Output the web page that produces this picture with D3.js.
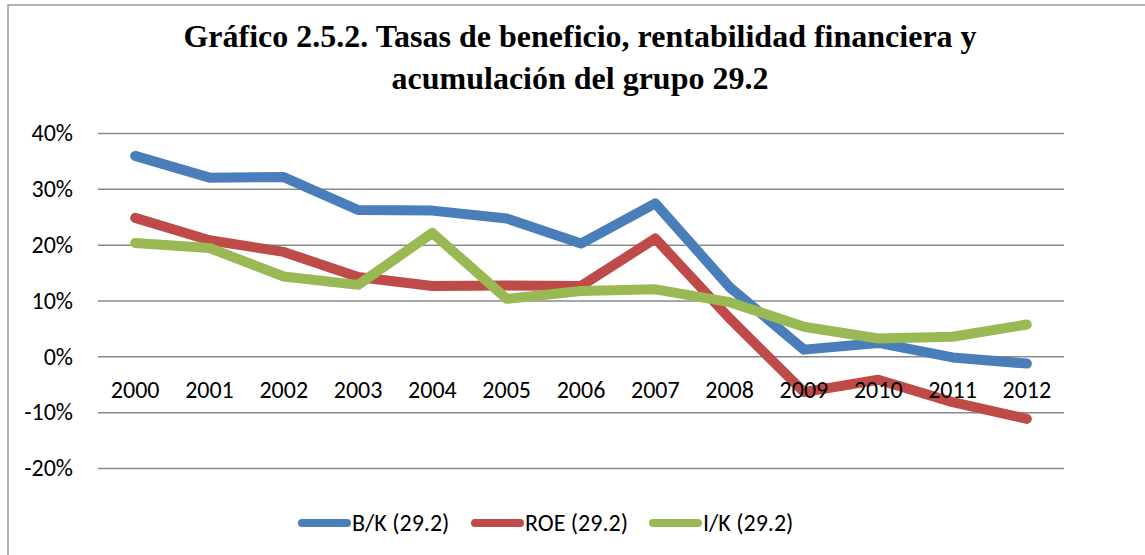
<!DOCTYPE html>
<head>
<meta charset="utf-8">
<title>Gráfico 2.5.2</title>
<script type="text/javascript" src="https://d3js.org/d3.v7.min.js"></script>
<style>
    body { margin: 0; background: #fff; }
    .lbl { font-family: Carlito, Calibri, Lato, sans-serif; font-size: 24px; fill: #000; }
    .ttl { font-family: "Liberation Serif", "Times New Roman", serif; font-weight: bold; font-size: 32px; fill: #000; }
</style>
</head>
<body>
<div id="my_dataviz"></div>
<script>
    // data
    var years = ["2000","2001","2002","2003","2004","2005","2006","2007","2008","2009","2010","2011","2012"];
    var bk  = [35.9, 32.0, 32.1, 26.2, 26.1, 24.7, 20.2, 27.4, 12.4, 1.2, 2.4, -0.2, -1.3];
    var roe = [24.8, 20.8, 18.7, 14.2, 12.6, 12.7, 12.6, 21.1, 6.8, -6.4, -4.2, -8.2, -11.2];
    var ik  = [20.3, 19.4, 14.3, 12.8, 22.1, 10.3, 11.7, 12.0, 9.7, 5.3, 3.2, 3.5, 5.7];
    var yTicks = [-20, -10, 0, 10, 20, 30, 40];
    var seriesNames = ["B/K (29.2)", "ROE (29.2)", "I/K (29.2)"];
    var colors = ["#4A7EBB", "#BE4B48", "#98B954"];

    var W = 1145, H = 555;
    var svg = d3.select("#my_dataviz")
      .append("svg")
        .attr("width", W)
        .attr("height", H);

    // chart area border
    svg.append("rect")
        .attr("x", 8).attr("y", 5)
        .attr("width", 1150).attr("height", 560)
        .attr("fill", "none")
        .attr("stroke", "#999")
        .attr("stroke-width", 1.5);

    // title
    var title = svg.append("text")
        .attr("class", "ttl")
        .attr("text-anchor", "middle");
    title.append("tspan").attr("x", 580).attr("y", 47)
        .text("Gráfico 2.5.2. Tasas de beneficio, rentabilidad financiera y");
    title.append("tspan").attr("x", 580).attr("y", 89)
        .text("acumulación del grupo 29.2");

    var x = d3.scalePoint()
      .domain(years)
      .range([98, 1064])
      .padding(0.5);

    var y = d3.scaleLinear()
      .domain([-20, 40])
      .range([468, 133]);

    // y axis with gridlines
    var yAxis = svg.append("g")
      .attr("transform", "translate(98,0)")
      .call(d3.axisLeft(y).tickValues(yTicks).tickSize(-(1064 - 98)).tickPadding(25)
        .tickFormat(function(d) { return d + "%"; }));
    yAxis.select(".domain").remove();
    yAxis.selectAll("line").attr("stroke", "#8a8a8a").attr("stroke-width", 1.5);
    yAxis.selectAll("text").attr("class", "lbl").attr("fill", "#000");

    var line = d3.line()
      .x(function(d, i) { return x(years[i]); })
      .y(function(d) { return y(d); });

    var allSeries = [bk, roe, ik];
    allSeries.forEach(function(s, k) {
      svg.append("path")
        .datum(s)
        .attr("d", line)
        .attr("fill", "none")
        .attr("stroke", colors[k])
        .attr("stroke-width", 10)
        .attr("stroke-linejoin", "round")
        .attr("stroke-linecap", "round");
    });

    // year labels under the zero line, drawn over the lines
    svg.selectAll("yearlbl")
      .data(years)
      .enter()
      .append("text")
        .attr("class", "lbl")
        .attr("x", function(d) { return x(d); })
        .attr("y", y(0) + 42)
        .attr("text-anchor", "middle")
        .text(function(d) { return d; });

    // legend
    var legX = [298, 471, 649];
    seriesNames.forEach(function(n, k) {
      svg.append("line")
        .attr("x1", legX[k] + 4).attr("x2", legX[k] + 49)
        .attr("y1", 523).attr("y2", 523)
        .attr("stroke", colors[k])
        .attr("stroke-width", 8)
        .attr("stroke-linecap", "round");
      svg.append("text")
        .attr("class", "lbl")
        .attr("x", legX[k] + 54)
        .attr("y", 531)
        .text(n);
    });
</script>
</body>
